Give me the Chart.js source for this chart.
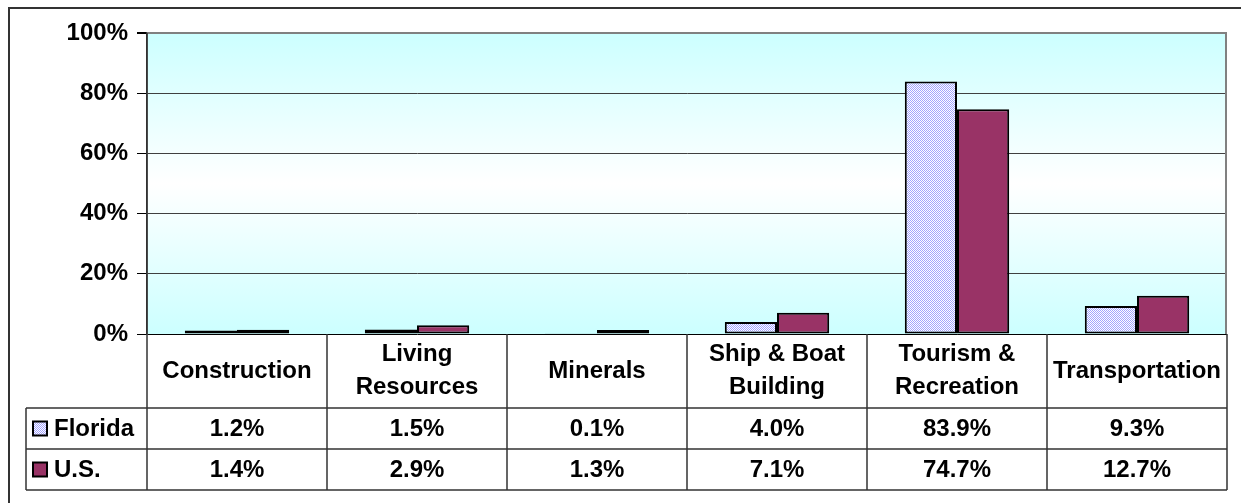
<!DOCTYPE html>
<html>
<head>
<meta charset="utf-8">
<script src="https://cdn.jsdelivr.net/npm/chart.js@4/dist/chart.umd.min.js"></script>
<style>
  html, body { margin: 0; padding: 0; background: #fff; }
  canvas { display: block; }
</style>
</head>
<body>
<canvas id="chart" width="1241" height="503"></canvas>
<script>
var categories = [["Construction"], ["Living", "Resources"], ["Minerals"], ["Ship & Boat", "Building"], ["Tourism &", "Recreation"], ["Transportation"]];
var seriesNames = ["Florida", "U.S."];
var florida = [1.2, 1.5, 0.1, 4.0, 83.9, 9.3];
var us = [1.4, 2.9, 1.3, 7.1, 74.7, 12.7];
var yTicks = [0, 20, 40, 60, 80, 100];

var FONT = 'bold 24px "Liberation Sans", Arial, sans-serif';

// fine diagonal hatch like the excel pattern fill
function makeHatch() {
  var c = document.createElement('canvas');
  c.width = 4; c.height = 4;
  var g = c.getContext('2d');
  g.fillStyle = '#ffffff';
  g.fillRect(0, 0, 4, 4);
  g.fillStyle = '#a3a3ff';
  for (var i = 0; i < 4; i++) {
    g.fillRect(i, i, 1, 1);
    g.fillRect((i + 2) % 4, i, 1, 1);
  }
  return g.createPattern(c, 'repeat');
}
var hatch = makeHatch();
var usColor = '#993366';

var tablePlugin = {
  id: 'table',
  beforeDraw: function (chart) {
    var ctx = chart.ctx, a = chart.chartArea;
    var grad = ctx.createLinearGradient(0, a.top, 0, a.bottom);
    grad.addColorStop(0, '#ccffff');
    grad.addColorStop(0.5, '#ffffff');
    grad.addColorStop(1, '#ccffff');
    ctx.save();
    ctx.fillStyle = grad;
    ctx.fillRect(a.left, a.top, a.right - a.left, a.bottom - a.top);
    ctx.restore();
  },
  afterDraw: function (chart) {
    var ctx = chart.ctx, a = chart.chartArea;
    var n = categories.length, w = (a.right - a.left) / n;
    var r0 = a.bottom, r1 = 408, r2 = 449, r3 = 490, legLeft = 26;
    ctx.save();

    // outer frame
    ctx.strokeStyle = '#333';
    ctx.lineWidth = 2;
    ctx.beginPath();
    ctx.moveTo(9, 503); ctx.lineTo(9, 8); ctx.lineTo(1241, 8);
    ctx.stroke();

    // right border of plot
    ctx.strokeStyle = '#808080';
    ctx.lineWidth = 2;
    ctx.beginPath();
    ctx.moveTo(a.right - 1, a.top); ctx.lineTo(a.right - 1, a.bottom);
    ctx.stroke();

    // table grid
    ctx.strokeStyle = '#333';
    ctx.lineWidth = 1.5;
    ctx.beginPath();
    [r1, r2, r3].forEach(function (y) { ctx.moveTo(legLeft, y); ctx.lineTo(a.right, y); });
    ctx.moveTo(legLeft, r1); ctx.lineTo(legLeft, r3);
    for (var i = 0; i <= n; i++) {
      var xx = a.left + i * w;
      ctx.moveTo(xx, i === 0 ? a.top : r0); ctx.lineTo(xx, r3);
    }
    ctx.stroke();

    // text
    ctx.fillStyle = '#000';
    ctx.font = FONT;
    ctx.textAlign = 'center';
    ctx.textBaseline = 'middle';
    var xs = chart.scales.x;
    var rowsData = [florida, us];
    categories.forEach(function (lab, i) {
      var cx = xs.getPixelForValue(i);
      var mid = (r0 + r1) / 2, lh = 33;
      lab.forEach(function (line, k) {
        ctx.fillText(line, cx, mid + (k - (lab.length - 1) / 2) * lh);
      });
      ctx.fillText(rowsData[0][i].toFixed(1) + '%', cx, (r1 + r2) / 2 + 1);
      ctx.fillText(rowsData[1][i].toFixed(1) + '%', cx, (r2 + r3) / 2 + 1);
    });

    // legend keys
    var fills = [hatch, usColor];
    var rowsY = [(r1 + r2) / 2, (r2 + r3) / 2];
    ctx.textAlign = 'left';
    seriesNames.forEach(function (name, k) {
      var y = rowsY[k];
      ctx.fillStyle = fills[k];
      ctx.fillRect(33, y - 7, 14, 14);
      ctx.strokeStyle = '#000';
      ctx.lineWidth = 2;
      ctx.strokeRect(33, y - 7, 14, 14);
      ctx.fillStyle = '#000';
      ctx.fillText(name, 54, y + 1);
    });
    ctx.restore();
  }
};

new Chart(document.getElementById('chart'), {
  type: 'bar',
  data: {
    labels: categories,
    datasets: [
      { label: seriesNames[0], data: florida, backgroundColor: hatch, borderColor: '#000', borderWidth: 2, borderSkipped: false },
      { label: seriesNames[1], data: us, backgroundColor: usColor, borderColor: '#000', borderWidth: 2, borderSkipped: false }
    ]
  },
  options: {
    responsive: false,
    animation: false,
    layout: { padding: { left: 0, top: 33, right: 14, bottom: 169 } },
    plugins: { legend: { display: false }, tooltip: { enabled: false } },
    datasets: { bar: { barPercentage: 1, categoryPercentage: 0.58 } },
    scales: {
      x: { display: false },
      y: {
        min: 0, max: 100,
        afterFit: function (s) { s.width = 147; },
        afterBuildTicks: function (s) { s.ticks = yTicks.map(function (v) { return { value: v }; }); },
        ticks: {
          color: '#000', padding: 9,
          font: { family: '"Liberation Sans", Arial, sans-serif', size: 24, weight: 'bold' },
          callback: function (v) { return v + '%'; }
        },
        grid: {
          tickLength: 10,
          color: function (c) { return c.tick.value === 100 ? '#808080' : (c.tick.value === 0 ? '#000' : '#404040'); },
          lineWidth: function (c) { return c.tick.value === 100 ? 2 : 1; },
          tickColor: '#000'
        },
        border: { color: '#333', width: 1.5 }
      }
    }
  },
  plugins: [tablePlugin]
});
</script>
</body>
</html>
